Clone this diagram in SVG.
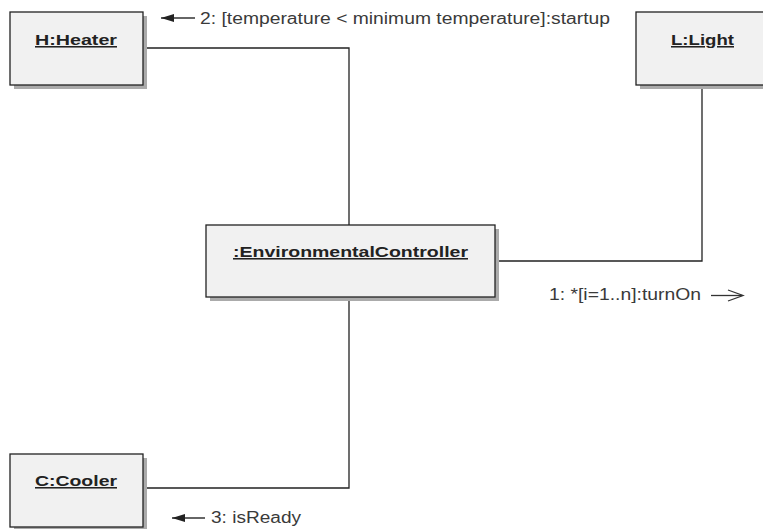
<svg xmlns="http://www.w3.org/2000/svg" width="763" height="529" viewBox="0 0 763 529">
<style>
.shadow{fill:#ababab}
.box{fill:#f1f1f1;stroke:#222;stroke-width:1.3}
.name{font-family:"Liberation Sans",Arial,sans-serif;font-size:15.5px;font-weight:bold;fill:#222;text-decoration:underline}
.lbl{font-family:"Liberation Sans",Arial,sans-serif;font-size:16px;fill:#3a3a3a}
.ln{fill:none;stroke:#222;stroke-width:1.3}
.al{fill:none;stroke:#333;stroke-width:1.3}
</style>
<defs>
<marker id="fill" markerWidth="14" markerHeight="10" refX="0" refY="5" orient="auto" markerUnits="userSpaceOnUse">
<path d="M0,5 L13,1 L13,9 Z" fill="#222"/>
</marker>
</defs>
<rect width="763" height="529" fill="#fff"/>
<g id="connectors">
<polyline class="ln" points="143,48 349,48 349,225"/>
<polyline class="ln" points="702,86 702,261 495,261"/>
<polyline class="ln" points="349,297 349,488 143,488"/>
<g id="msg2"><line class="al" x1="161" y1="18" x2="195" y2="18" marker-start="url(#fill)"/><text class="lbl" x="200" y="24" textLength="410" lengthAdjust="spacingAndGlyphs">2: [temperature &lt; minimum temperature]:startup</text></g>
<g id="msg1"><text class="lbl" x="549" y="300" textLength="152" lengthAdjust="spacingAndGlyphs">1: *[i=1..n]:turnOn</text><line class="al" x1="711" y1="295.5" x2="742" y2="295.5"/><polyline class="al" points="728,290 743,295.5 728,301"/></g>
<g id="msg3"><line class="al" x1="172" y1="518" x2="205" y2="518" marker-start="url(#fill)"/><text class="lbl" x="211" y="523" textLength="90" lengthAdjust="spacingAndGlyphs">3: isReady</text></g>
</g>
<g id="heater">
<rect class="shadow" x="14" y="16" width="133" height="73"/>
<rect class="box" x="10" y="12" width="133" height="73"/>
<text class="name" x="35" y="45" textLength="82" lengthAdjust="spacingAndGlyphs">H:Heater</text>
</g>
<g id="light">
<rect class="shadow" x="640" y="16" width="133" height="73"/>
<rect class="box" x="636" y="12" width="133" height="73"/>
<text class="name" x="671" y="45" textLength="63" lengthAdjust="spacingAndGlyphs">L:Light</text>
</g>
<g id="controller">
<rect class="shadow" x="210" y="229" width="289" height="72"/>
<rect class="box" x="206" y="225" width="289" height="72"/>
<text class="name" x="233" y="257" textLength="235" lengthAdjust="spacingAndGlyphs">:EnvironmentalController</text>
</g>
<g id="cooler">
<rect class="shadow" x="14" y="458" width="133" height="73"/>
<rect class="box" x="10" y="454" width="133" height="73"/>
<text class="name" x="35" y="486" textLength="82" lengthAdjust="spacingAndGlyphs">C:Cooler</text>
</g>
</svg>
